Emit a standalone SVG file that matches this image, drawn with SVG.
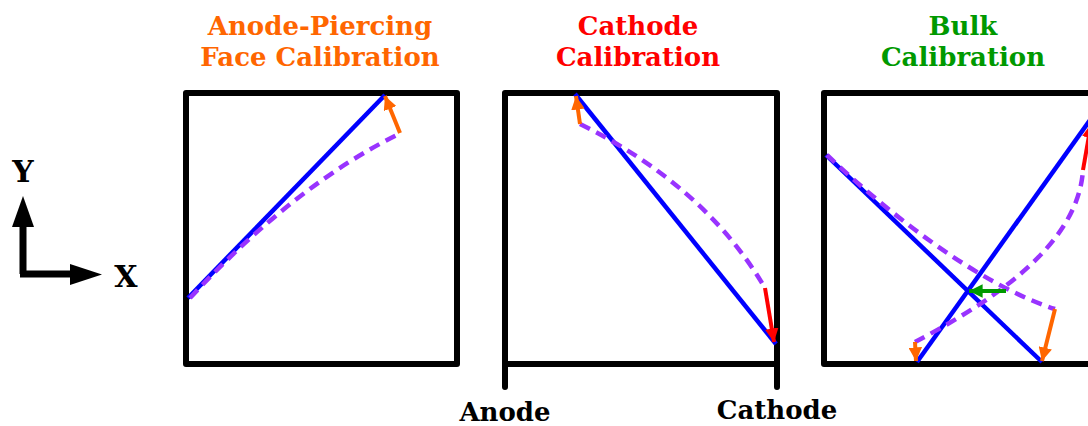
<svg xmlns="http://www.w3.org/2000/svg" width="1088" height="426" viewBox="0 0 1088 426">
<style>
.t{font-family:"DejaVu Serif",serif;font-weight:bold;font-size:26px;text-anchor:middle}
.box{fill:none;stroke:#000;stroke-width:6;stroke-linejoin:round;stroke-linecap:round}
.blue{fill:none;stroke:#0000FF;stroke-width:4.5}
.dash{fill:none;stroke:#9933FF;stroke-width:4.5;stroke-dasharray:11 7}
.or{stroke:#FF6600;stroke-width:4;fill:none}
.rd{stroke:#FF0000;stroke-width:4;fill:none}
.gr{stroke:#009900;stroke-width:4;fill:none}
</style>
<defs>
<marker id="mo" viewBox="0 0 10 10" refX="10" refY="5" markerWidth="3.4" markerHeight="3.4" orient="auto" markerUnits="strokeWidth"><path d="M0,0 L10,5 L0,10 Z" fill="#FF6600"/></marker>
<marker id="mr" viewBox="0 0 10 10" refX="10" refY="5" markerWidth="3.4" markerHeight="3.4" orient="auto" markerUnits="strokeWidth"><path d="M0,0 L10,5 L0,10 Z" fill="#FF0000"/></marker>
<marker id="mg" viewBox="0 0 10 10" refX="10" refY="5" markerWidth="3.4" markerHeight="3.4" orient="auto" markerUnits="strokeWidth"><path d="M0,0 L10,5 L0,10 Z" fill="#009900"/></marker>
</defs>
<rect width="1088" height="426" fill="#fff"/>
<g id="axes">
<path d="M23,274 V224 M20,274 H72" stroke="#000" stroke-width="7" fill="none"/>
<polygon points="12,227 23,196 34,227" fill="#000"/>
<polygon points="70,264 102,274.5 70,285" fill="#000"/>
<text class="t" x="23" y="182" style="font-size:30px">Y</text>
<text class="t" x="126" y="287" style="font-size:30px">X</text>
</g>
<g id="panel-anode">
<text class="t" x="320" y="35" fill="#FF6600">Anode-Piercing</text>
<text class="t" x="320" y="66" fill="#FF6600">Face Calibration</text>
<rect class="box" x="186" y="93" width="271" height="271"/>
<line class="blue" x1="188" y1="298" x2="385" y2="95"/>
<path class="dash" d="M190,298 Q296,184 401,133"/>
</g>
<g id="panel-cathode">
<text class="t" x="638" y="35" fill="#FF0000">Cathode</text>
<text class="t" x="638" y="66" fill="#FF0000">Calibration</text>
<rect class="box" x="505" y="93" width="272" height="271"/>
<path class="box" d="M505,364 V387 M777,364 V387"/>
<line class="blue" x1="575" y1="94" x2="776" y2="344"/>
<path class="dash" d="M580,124 Q705,186 765,288"/>
<text class="t" x="505" y="421" fill="#000">Anode</text>
<text class="t" x="777" y="419" fill="#000">Cathode</text>
</g>
<g id="panel-bulk">
<text class="t" x="963" y="35" fill="#009900">Bulk</text>
<text class="t" x="963" y="66" fill="#009900">Calibration</text>
<rect class="box" x="824" y="93" width="280" height="271"/>
<line class="blue" x1="826" y1="155" x2="1042" y2="362"/>
<line class="blue" x1="917" y1="362" x2="1100" y2="106"/>
<path class="dash" d="M827,155 C890,215 980,285 1055,309"/>
<path class="dash" d="M915,342 C985,305 1078,248 1083,170"/>
</g>
<g id="connectors">
<line class="or" x1="400" y1="133" x2="385" y2="96" marker-end="url(#mo)"/>
<line class="or" x1="580" y1="124" x2="576" y2="96" marker-end="url(#mo)"/>
<line class="rd" x1="765" y1="288" x2="774" y2="342" marker-end="url(#mr)"/>
<line class="or" x1="1055" y1="309" x2="1042" y2="361" marker-end="url(#mo)"/>
<line class="or" x1="915" y1="342" x2="916" y2="361" marker-end="url(#mo)"/>
<line class="rd" x1="1083" y1="170" x2="1091" y2="124" marker-end="url(#mr)"/>
<line class="gr" x1="1006" y1="291" x2="969" y2="291" marker-end="url(#mg)"/>
</g>
</svg>
